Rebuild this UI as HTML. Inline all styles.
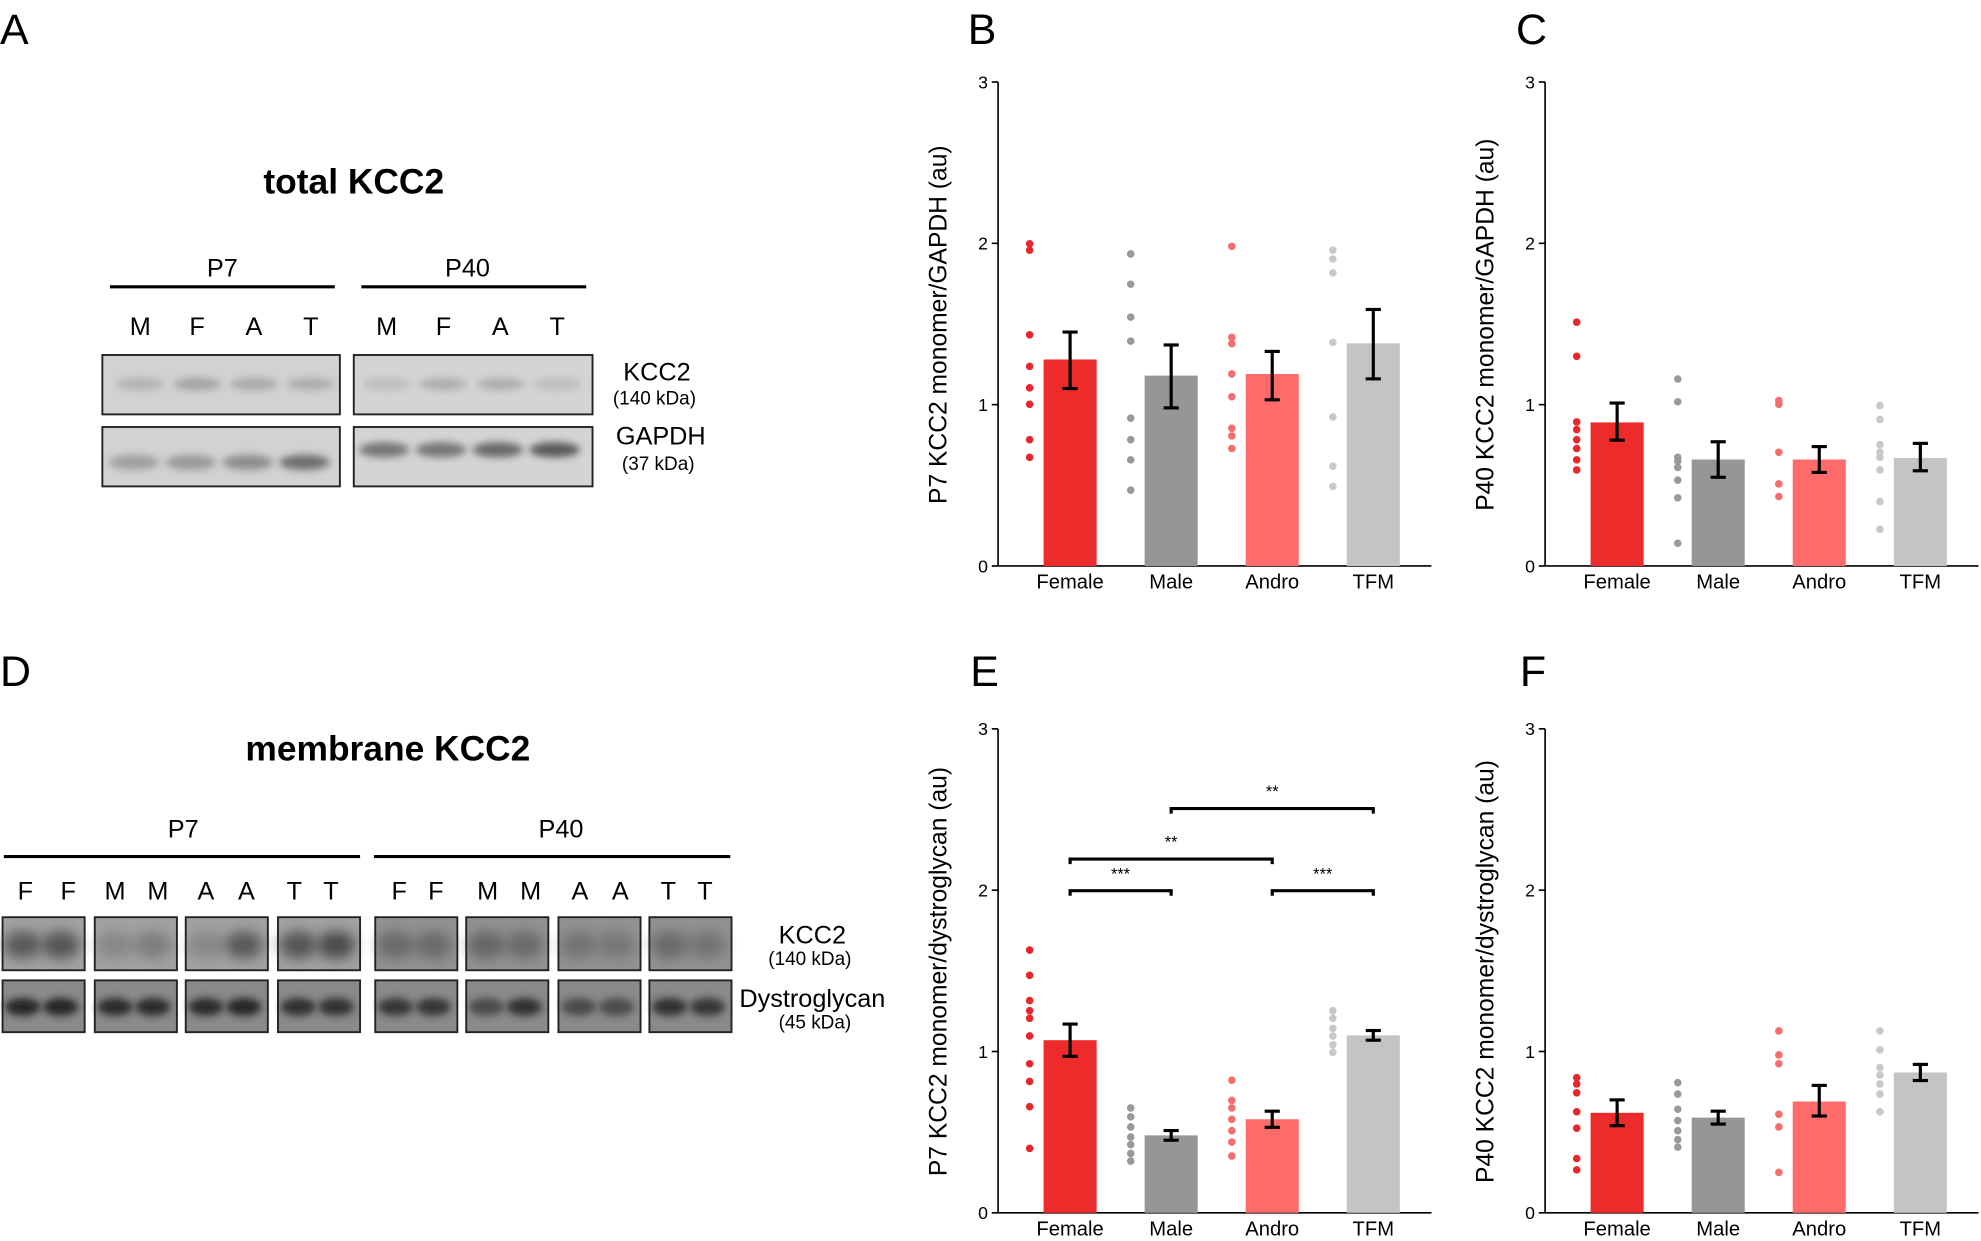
<!DOCTYPE html>
<html><head><meta charset="utf-8"><style>
html,body{margin:0;padding:0;background:#fff}
svg{display:block;font-family:"Liberation Sans",Arial,sans-serif}
</style></head><body>
<svg id="s" width="1981" height="1241" viewBox="0 0 1568 982.3" xmlns="http://www.w3.org/2000/svg">
<defs>
<filter id="bl" x="-30%" y="-80%" width="160%" height="260%"><feGaussianBlur stdDeviation="3"/></filter>
<filter id="bl2" x="-40%" y="-100%" width="180%" height="300%"><feGaussianBlur stdDeviation="5"/></filter>
</defs>
<g font-size="34" fill="#000">
<text x="0" y="35">A</text><text x="766" y="35">B</text><text x="1200" y="35">C</text>
<text x="0" y="543">D</text><text x="768" y="543">E</text><text x="1203" y="543">F</text>
</g>
<text x="280" y="153" font-size="28" font-weight="bold" text-anchor="middle">total KCC2</text>
<text x="307" y="602" font-size="28" font-weight="bold" text-anchor="middle">membrane KCC2</text>
<g id="charts"></g>
</svg>
<script>
let out="";
function T(x,y,s,t,a,extra){out+=`<text x="${x}" y="${y}" font-size="${s}" text-anchor="${a||'middle'}" ${extra||''}>${t}</text>`;}
function L(x1,y1,x2,y2,w,c){out+=`<line x1="${x1}" y1="${y1}" x2="${x2}" y2="${y2}" stroke="${c||'#000'}" stroke-width="${w||1}"/>`;}
L(87,227,265,227,2.5);L(286,227,464,227,2.5);
T(176,219,20,"P7");T(370,219,20,"P40");
"MFAT".split("").forEach((c,i)=>{T(111+45*i,265,20,c);T(306+45*i,265,20,c);});
function box(x,y,w,h,bg){out+=`<rect x="${x}" y="${y}" width="${w}" height="${h}" fill="${bg}" stroke="#222" stroke-width="1.5"/>`;}
function band(cx,cy,rx,ry,col,op,f){out+=`<ellipse cx="${cx}" cy="${cy}" rx="${rx}" ry="${ry}" fill="${col}" opacity="${op}" filter="url(#${f||'bl'})"/>`;}
box(81,281,188,47,"#d2d2d2");box(280,281,189,47,"#d4d4d4");
box(81,338,188,47,"#d2d2d2");box(280,338,189,47,"#d4d4d4");
[.35,.5,.45,.4].forEach((o,i)=>band(111+45*i,304,19,5,"#777",o));
[.25,.4,.4,.25].forEach((o,i)=>band(306+45*i,304,19,5,"#777",o));
[.4,.45,.55,.8].forEach((o,i)=>band(106+45*i,366,20,6,"#555",o));
[.65,.65,.75,.85].forEach((o,i)=>band(304+45*i,356,20,6,"#444",o));
T(520,301,20,"KCC2");T(518,320,15,"(140 kDa)");T(523,352,20,"GAPDH");T(521,372,15,"(37 kDa)");
L(3,678,285,678,2.5);L(296,678,578,678,2.5);
T(145,663,20,"P7");T(444,663,20,"P40");
const lx=[20,54,91,125,163,195,233,262,316,345,386,420,459,491,529,558];
"FFMMAATTFFMMAATT".split("").forEach((c,i)=>T(lx[i],712,20,c));
const bx=[2,75,147,220,297,369,442,514];
const kop=[[.7,.75],[.25,.35],[.25,.7],[.75,.85],[.45,.45],[.5,.45],[.35,.3],[.45,.35]];
const dop=[[.95,.95],[.9,.9],[.9,.95],[.85,.85],[.8,.8],[.6,.85],[.6,.6],[.85,.8]];
bx.forEach((x,i)=>{
 box(x,726,65,42,i<4?"#a2a2a2":"#929292");
 box(x,776,65,41,"#8a8a8a");
 band(x+16,748,15,11,"#3a3a3a",kop[i][0],"bl2");band(x+46,748,15,11,"#3a3a3a",kop[i][1],"bl2");
 band(x+16,797,14,7,"#222",dop[i][0]);band(x+46,797,14,7,"#222",dop[i][1]);
});
T(643,747,20,"KCC2");T(641,764,15,"(140 kDa)");T(643,797,20,"Dystroglycan");T(645,814,15,"(45 kDa)");
const cols=["#ee2b2b","#969696","#ff6b6b","#c4c4c4"];
const dcols=["#e8262b","#999999","#f56d6d","#c8c8c8"];
const names=["Female","Male","Andro","TFM"];
function chart(ax,y0,label,bars,dots){
 const k=127.7,y=v=>y0-v*k;
 const cx=[57,137,217,297].map(d=>ax+d);
 L(ax,y0-383,ax,y0,1.3);L(ax,y0,ax+343,y0,1.3);
 for(let v=0;v<=3;v++){L(ax-5,y(v),ax,y(v),1.3);T(ax-8,y(v)+5,14,v,"end");}
 bars.forEach((b,i)=>{
  out+=`<rect x="${cx[i]-21}" y="${y(b[0])}" width="42" height="${b[0]*k}" fill="${cols[i]}"/>`;
  L(cx[i],y(b[2]),cx[i],y(b[1]),2.5);L(cx[i]-6,y(b[2]),cx[i]+6,y(b[2]),2.5);L(cx[i]-6,y(b[1]),cx[i]+6,y(b[1]),2.5);
  T(cx[i],y0+18,16,names[i]);
  dots[i].forEach(py=>out+=`<circle cx="${cx[i]-32}" cy="${py}" r="3" fill="${dcols[i]}"/>`);
 });
 out+=`<text transform="translate(${ax-41},${y0-191}) rotate(-90)" font-size="19.5" text-anchor="middle">${label}</text>`;
}
chart(790,448,"P7 KCC2 monomer/GAPDH (au)",[[1.28,1.10,1.45],[1.18,0.98,1.37],[1.19,1.03,1.33],[1.38,1.16,1.59]],
 [[193,198,265,290,307,320,348,362],[201,225,251,270,331,348,364,388],[195,267,272,296,314,339,345,355],[198,205,216,271,330,369,385]]);
chart(1223,448,"P40 KCC2 monomer/GAPDH (au)",[[0.89,0.78,1.01],[0.66,0.55,0.77],[0.66,0.58,0.74],[0.67,0.59,0.76]],
 [[255,282,334,340,348,355,364,372],[300,318,362,365,370,380,394,430],[317,320,358,383,393],[321,332,352,358,362,372,397,419]]);
chart(790,960,"P7 KCC2 monomer/dystroglycan (au)",[[1.07,0.97,1.17],[0.48,0.45,0.51],[0.58,0.53,0.63],[1.10,1.07,1.13]],
 [[752,772,792,800,806,820,842,856,876,909],[877,884,892,900,906,913,919],[855,871,877,886,895,904,915],[800,806,814,820,827,833]]);
chart(1223,960,"P40 KCC2 monomer/dystroglycan (au)",[[0.62,0.54,0.70],[0.59,0.55,0.63],[0.69,0.60,0.79],[0.87,0.82,0.92]],
 [[853,858,865,880,893,917,926],[857,866,878,887,895,902,908],[816,835,842,882,892,928],[816,831,845,851,858,866,880]]);
function sig(x1,x2,yy,t){out+=`<path d="M${x1} ${yy+4}V${yy}H${x2}V${yy+4}" fill="none" stroke="#000" stroke-width="2.5"/>`;T((x1+x2)/2,yy-9,13,t);}
sig(847,927,705,"***");sig(1007,1087,705,"***");sig(847,1007,680,"**");sig(927,1087,640,"**");
document.getElementById("charts").innerHTML=out;
</script>
</body></html>
